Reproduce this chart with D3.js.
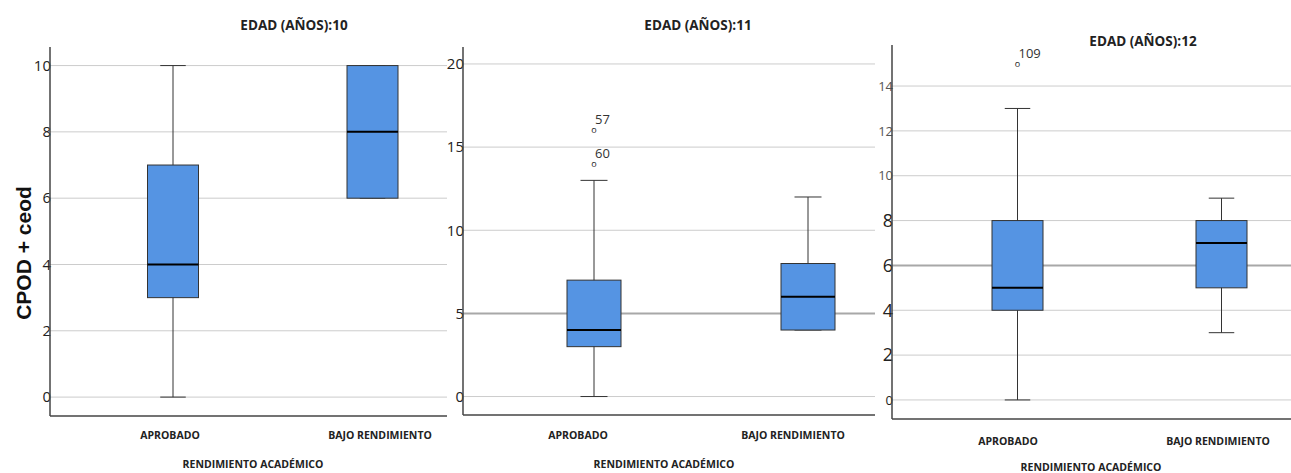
<!DOCTYPE html>
<html>
<head>
<meta charset="utf-8">
<script src="https://cdn.jsdelivr.net/npm/d3@7"></script>
<style>
  body { margin: 0; background: #fff; }
  svg { display: block; }
</style>
</head>
<body>
<svg id="chart" width="1291" height="473"></svg>
<script>
// values
const titles = ["EDAD (AÑOS):10", "EDAD (AÑOS):11", "EDAD (AÑOS):12"];
const groups = ["APROBADO", "BAJO RENDIMIENTO"];
const mins    = [[0, 6], [0, 4], [0, 3]];
const q1s     = [[3, 6], [3, 4], [4, 5]];
const medians = [[4, 8], [4, 6], [5, 7]];
const q3s     = [[7, 10], [7, 8], [8, 8]];
const maxs    = [[10, 10], [13, 12], [13, 9]];
const outliers = [
    [],
    [{ group: 0, value: 16, label: "57" }, { group: 0, value: 14, label: "60" }],
    [{ group: 0, value: 15, label: "109" }]
];
const yTicks = [[0, 2, 4, 6, 8, 10], [0, 5, 10, 15, 20], [0, 2, 4, 6, 8, 10, 12, 14]];
const refValues = [null, 5, 6];
const xTitle = "RENDIMIENTO ACADÉMICO";
const yTitle = "CPOD + ceod";

// layout of each panel (pixels)
const layout = [
    { x0: 50, x1: 447, top: 47, bottom: 416, domain: [-0.57, 10.56], centers: [173, 372.5], boxW: 51,
      catX: [170, 380], titleX: 294, titleY: 30, catY: 439, axTitleX: 253, axTitleY: 468 },
    { x0: 463, x1: 875, top: 47, bottom: 415, domain: [-1.11, 21.02], centers: [594, 808], boxW: 54,
      catX: [578, 793], titleX: 698, titleY: 30, catY: 439, axTitleX: 664, axTitleY: 468 },
    { x0: 892, x1: 1291, top: 45, bottom: 419, domain: [-0.85, 15.83], centers: [1017.5, 1221.5], boxW: 51,
      catX: [1008, 1218], titleX: 1143, titleY: 46, catY: 445, axTitleX: 1091, axTitleY: 471 }
];

const svg = d3.select('#chart');
const font = "'Open Sans', 'DejaVu Sans', sans-serif";

layout.forEach((L, p) => {
    let y = d3.scaleLinear(L.domain, [L.bottom, L.top]);
    let x = d3.scaleOrdinal(groups, L.centers);
    let g = svg.append('g');

    // gridlines
    g.append('g')
        .selectAll('line')
        .data(yTicks[p])
        .join('line')
        .attr('x1', L.x0)
        .attr('x2', L.x1)
        .attr('y1', d => y(d))
        .attr('y2', d => y(d))
        .attr('stroke', d => d === refValues[p] ? '#a8a8a8' : '#cccccc')
        .attr('stroke-width', d => d === refValues[p] ? 2 : 1);

    // y axis labels
    let axis = d3.axisLeft(y).tickValues(yTicks[p]).tickSize(0).tickPadding(-1);
    let ax = g.append('g')
        .attr('transform', `translate(${L.x0},0)`)
        .call(axis);
    ax.select('.domain').remove();
    ax.selectAll('text')
        .attr('font-family', font)
        .attr('fill', d => (p === 2 && d >= 10) ? '#555' : '#222')
        .attr('font-size', d => p === 2 ? (d >= 10 || d === 0 ? 13 : 18) : 15);

    // axis lines
    g.append('line')
        .attr('x1', L.x0).attr('x2', L.x0)
        .attr('y1', L.top).attr('y2', L.bottom)
        .attr('stroke', '#444').attr('stroke-width', 1.5);
    g.append('line')
        .attr('x1', L.x0).attr('x2', L.x1)
        .attr('y1', L.bottom).attr('y2', L.bottom)
        .attr('stroke', '#444').attr('stroke-width', 1.5);

    let boxes = groups.map((k, i) => ({
        group: k, min: mins[p][i], q1: q1s[p][i], med: medians[p][i], q3: q3s[p][i], max: maxs[p][i]
    }));

    let b = g.append('g')
        .selectAll('g')
        .data(boxes)
        .join('g');

    // whiskers
    b.append('line')
        .attr('x1', d => x(d.group)).attr('x2', d => x(d.group))
        .attr('y1', d => y(d.max)).attr('y2', d => y(d.min))
        .attr('stroke', '#333').attr('stroke-width', 1);
    b.selectAll('.cap')
        .data(d => [d.min, d.max].map(v => ({ group: d.group, v })))
        .join('line')
        .attr('class', 'cap')
        .attr('x1', d => x(d.group) - L.boxW * 0.25)
        .attr('x2', d => x(d.group) + L.boxW * 0.25)
        .attr('y1', d => y(d.v)).attr('y2', d => y(d.v))
        .attr('stroke', '#333').attr('stroke-width', 1);

    // box
    b.append('rect')
        .attr('x', d => x(d.group) - L.boxW / 2)
        .attr('width', L.boxW)
        .attr('y', d => y(d.q3))
        .attr('height', d => y(d.q1) - y(d.q3))
        .attr('fill', '#5594e3')
        .attr('stroke', '#333')
        .attr('stroke-width', 1);

    // median
    b.append('line')
        .attr('x1', d => x(d.group) - L.boxW / 2)
        .attr('x2', d => x(d.group) + L.boxW / 2)
        .attr('y1', d => y(d.med)).attr('y2', d => y(d.med))
        .attr('stroke', '#000').attr('stroke-width', 2);

    // outliers
    let o = g.append('g')
        .selectAll('g')
        .data(outliers[p])
        .join('g')
        .attr('transform', d => `translate(${x(groups[d.group])},${y(d.value)})`);
    o.append('text')
        .attr('text-anchor', 'middle')
        .attr('y', 3)
        .attr('font-family', font)
        .attr('font-size', 9)
        .attr('fill', '#222')
        .text('o');
    o.append('text')
        .attr('x', 1)
        .attr('y', -6)
        .attr('font-family', font)
        .attr('font-size', 13)
        .attr('fill', '#333')
        .text(d => d.label);

    // titles and labels
    g.append('text')
        .attr('x', L.titleX).attr('y', L.titleY)
        .attr('text-anchor', 'middle')
        .attr('font-family', font)
        .attr('font-weight', 'bold')
        .attr('font-size', 13.5)
        .attr('fill', '#222')
        .text(titles[p]);

    g.append('g')
        .selectAll('text')
        .data(groups)
        .join('text')
        .attr('x', (d, i) => L.catX[i])
        .attr('y', L.catY)
        .attr('text-anchor', 'middle')
        .attr('font-family', font)
        .attr('font-weight', 'bold')
        .attr('font-size', 10.5)
        .attr('fill', '#222')
        .text(d => d);

    g.append('text')
        .attr('x', L.axTitleX).attr('y', L.axTitleY)
        .attr('text-anchor', 'middle')
        .attr('font-family', font)
        .attr('font-weight', 'bold')
        .attr('font-size', 10.5)
        .attr('fill', '#222')
        .text(xTitle);
});

svg.append('text')
    .attr('transform', 'translate(31,253) rotate(-90)')
    .attr('text-anchor', 'middle')
    .attr('font-family', "'Liberation Sans', Arial, sans-serif")
    .attr('font-weight', 'bold')
    .attr('font-size', 21)
    .attr('fill', '#111')
    .text(yTitle);
</script>
</body>
</html>
